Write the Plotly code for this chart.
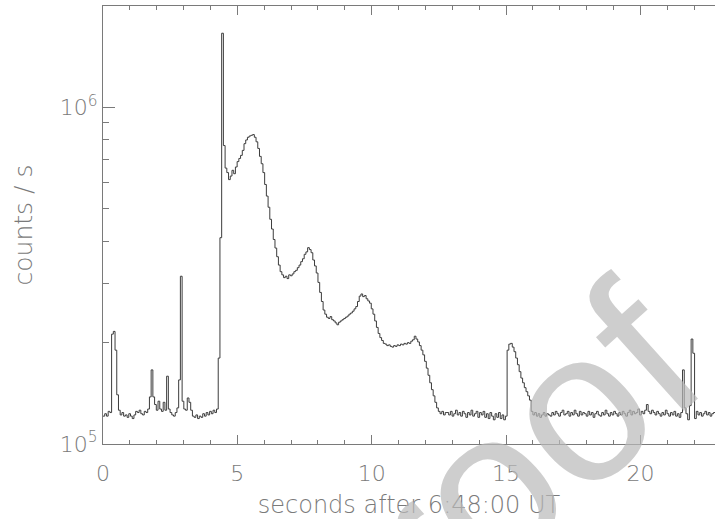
import plotly.graph_objects as go

# ---- data (counts/s in units of 1000, bins of 0.064 s starting at t=0) ----
bin_width = 0.064
t_start = 0.0
counts_k = [
    # 0.000 - 1.216 s
    121, 123, 121, 125, 124, 212, 216, 190, 140, 126, 122, 124, 121, 122, 120, 123, 121, 119, 122, 125,
    # 1.280 - 2.496 s
    124, 126, 123, 122, 125, 124, 127, 138, 166, 138, 131, 126, 134, 127, 125, 133, 126, 159, 127, 124,
    # 2.560 - 3.776 s
    122, 121, 124, 128, 155, 315, 134, 127, 126, 137, 133, 126, 121, 120, 122, 119, 121, 120, 123, 121,
    # 3.840 - 5.056 s
    124, 122, 125, 123, 126, 124, 127, 180, 410, 1660, 770, 660, 640, 610, 625, 650, 635, 665, 690, 705,
    # 5.120 - 6.336 s
    720, 745, 780, 800, 815, 822, 826, 830, 815, 790, 755, 715, 680, 640, 590, 545, 505, 465, 435, 405,
    # 6.400 - 7.616 s
    382, 360, 340, 325, 318, 312, 315, 310, 318, 316, 320, 325, 328, 334, 340, 348, 355, 366, 372, 383,
    # 7.680 - 8.896 s
    378, 370, 352, 338, 322, 302, 282, 265, 250, 243, 238, 236, 239, 234, 232, 229, 226, 230, 232, 234,
    # 8.960 - 10.176 s
    236, 238, 240, 243, 245, 248, 252, 256, 265, 275, 279, 274, 276, 270, 266, 262, 252, 243, 232, 222,
    # 10.240 - 11.456 s
    213, 207, 203, 199, 198, 196, 197, 195, 194, 196, 195, 197, 196, 198, 197, 199, 198, 200, 199, 202,
    # 11.520 - 12.736 s
    204, 209, 205, 201, 196, 190, 184, 176, 168, 160, 152, 145, 139, 133, 128, 125, 123, 125, 122, 124,
    # 12.800 - 14.016 s
    124, 122, 125, 121, 123, 126, 122, 124, 121, 125, 123, 120, 124, 122, 126, 121, 123, 125, 120, 124,
    # 14.080 - 15.296 s
    122, 125, 120, 123, 119, 124, 121, 118, 123, 120, 124, 119, 122, 118, 121, 190, 198, 199, 194, 188,
    # 15.360 - 16.576 s
    180, 172, 164, 157, 152, 147, 143, 139, 135, 125, 122, 124, 121, 123, 120, 122, 124, 121, 123, 122,
    # 16.640 - 17.856 s
    121, 124, 122, 125, 123, 121, 124, 126, 122, 123, 125, 121, 124, 122, 126, 123, 121, 125, 122, 124,
    # 17.920 - 19.136 s
    123, 121, 125, 122, 124, 120, 123, 125, 122, 121, 124, 122, 126, 123, 121, 124, 122, 125, 123, 121,
    # 19.200 - 20.416 s
    124, 122, 125, 123, 121, 124, 126, 122, 125, 123, 124, 127, 122, 125, 123, 126, 131, 125, 123, 126,
    # 20.480 - 21.696 s
    124, 122, 125, 123, 121, 124, 122, 126, 123, 121, 124, 122, 125, 121, 123, 120, 124, 166, 128, 123,
    # 21.760 - 22.720 s
    118, 130, 205, 186, 119, 125, 122, 124, 121, 123, 125, 122, 124, 121, 123, 124,
]

x_title = "seconds after 6:48:00 UT"
y_title = "counts / s"
x_tickvals = [0, 5, 10, 15, 20]
x_minor_vals = [i for i in range(0, 23) if i % 5 != 0]
y_tickvals = [1e5, 1e6]
y_ticktext = ["10<sup>5</sup>", "10<sup>6</sup>"]
y_minor_vals = [2e5, 3e5, 4e5, 5e5, 6e5, 7e5, 8e5, 9e5, 2e6]
watermark = "Proof"

# step-histogram edges
n = len(counts_k)
edges = [t_start + i * bin_width for i in range(n + 1)]
values = [c * 1000 for c in counts_k]
values_step = values + [values[-1]]

axis_col = "#7a7a7a"
text_col = "#7a7a7a"
font_fam = "DejaVu Sans"

fig = go.Figure()
fig.add_trace(go.Scatter(
    x=edges, y=values_step, mode="lines", line=dict(shape="hv", color="#3c3c3c", width=1),
    showlegend=False, hoverinfo="skip",
))

fig.update_layout(
    width=715, height=519,
    margin=dict(l=103, r=0, t=6, b=75),
    paper_bgcolor="white", plot_bgcolor="white",
    font=dict(family=font_fam, size=22, color=text_col, weight=200),
    xaxis=dict(
        range=[0, 612 / 26.87], showgrid=False, zeroline=False, automargin=False,
        showline=True, linecolor=axis_col, linewidth=1, mirror="ticks",
        tickmode="array", tickvals=x_tickvals, ticks="inside", ticklen=9, tickcolor=axis_col,
        minor=dict(tickmode="array", tickvals=x_minor_vals, ticks="inside", ticklen=4, tickcolor=axis_col),
        ticklabelstandoff=10,
        title=dict(text=x_title, standoff=13, font=dict(size=24, color=text_col, weight=200)),
    ),
    yaxis=dict(
        type="log", range=[5, 6.301], showgrid=False, zeroline=False, automargin=False,
        showline=True, linecolor=axis_col, linewidth=1,
        tickmode="array", tickvals=y_tickvals, ticktext=y_ticktext,
        ticks="inside", ticklen=12, tickcolor=axis_col,
        minor=dict(tickmode="array", tickvals=y_minor_vals, ticks="inside", ticklen=6, tickcolor=axis_col),
        ticklabelstandoff=0,
        title=dict(text=y_title, standoff=20, font=dict(size=25, color=text_col, weight=200)),
    ),
    yaxis2=dict(
        type="log", range=[5, 6.301], overlaying="y", side="right", showgrid=False, zeroline=False,
        showline=False, automargin=False, tickmode="array", tickvals=[1e6], ticks="inside", ticklen=6,
        tickcolor=axis_col, showticklabels=False,
    ),
)

fig.add_annotation(
    text=watermark, xref="paper", yref="paper", x=0.6046, y=-0.128,
    xanchor="center", yanchor="middle", showarrow=False, textangle=-42,
    font=dict(family="Liberation Sans", size=215, color="rgba(185,185,185,0.7)"),
)

fig.write_html("out.html", config={"displayModeBar": False},
               post_script="document.body.style.margin='0';")
